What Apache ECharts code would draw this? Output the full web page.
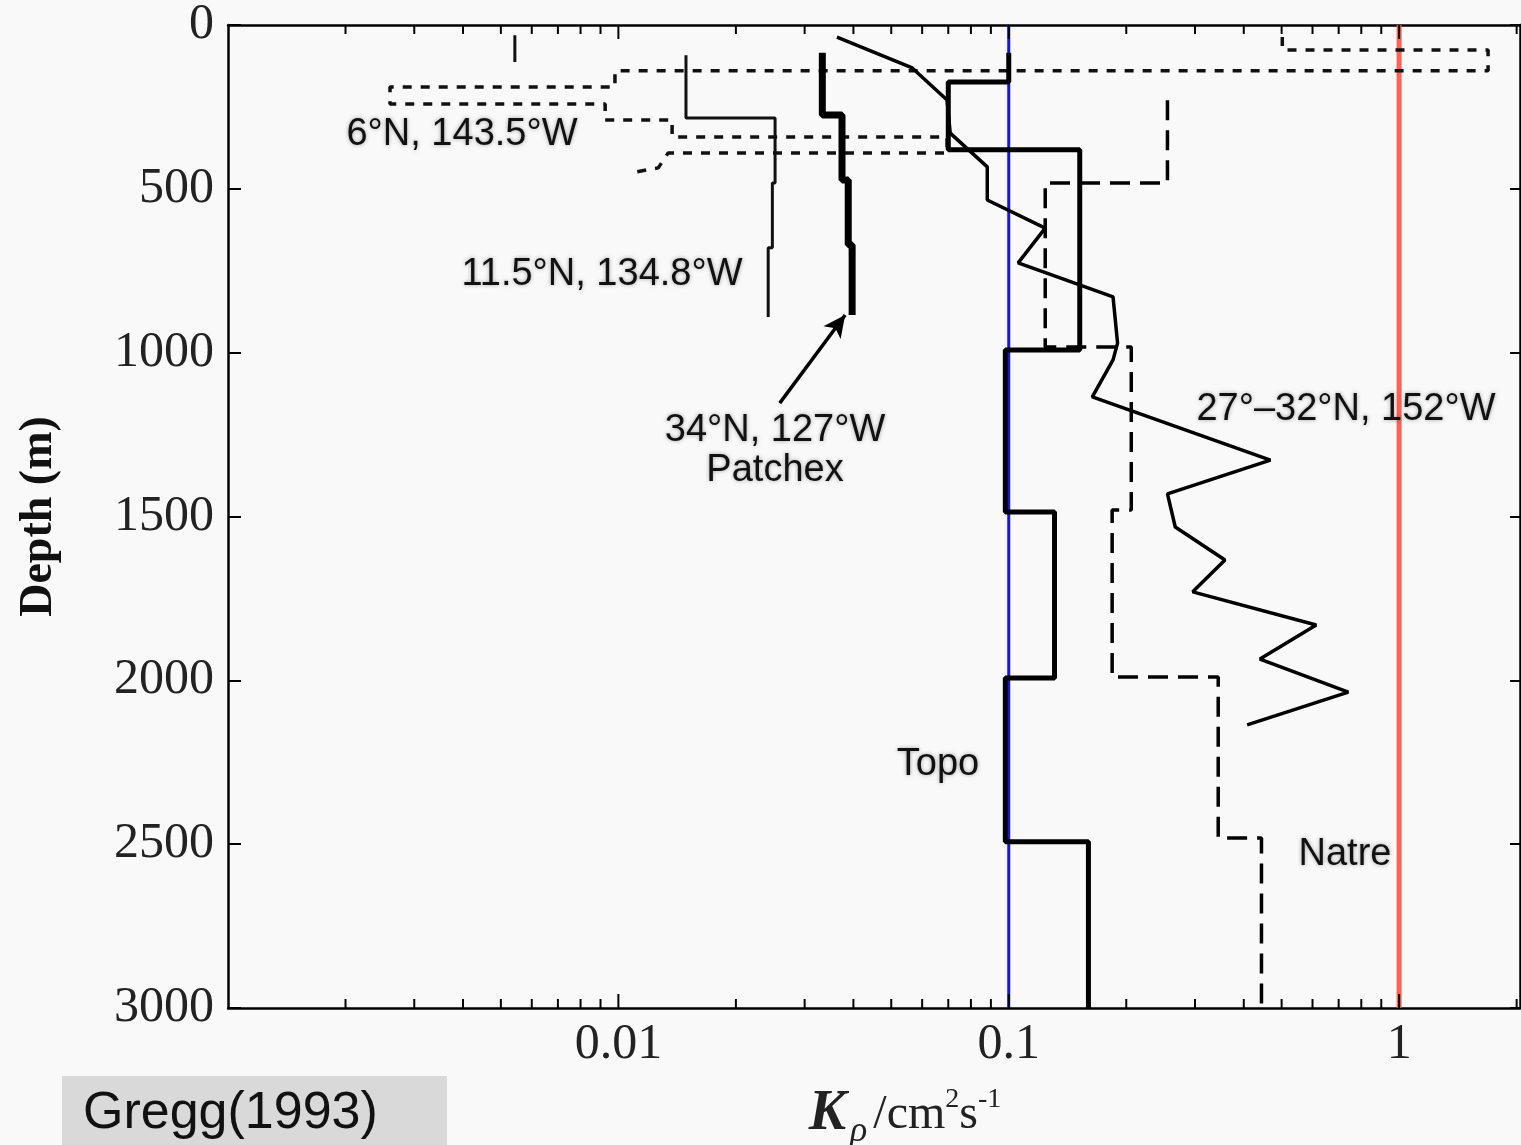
<!DOCTYPE html>
<html>
<head>
<meta charset="utf-8">
<script src="https://cdn.jsdelivr.net/npm/echarts@6/dist/echarts.min.js"></script>
<style>
html,body{margin:0;padding:0;background:#f9f9f9;}
#chart{width:1521px;height:1145px;}
</style>
</head>
<body>
<div id="chart"></div>
<script>
// ---------- data ----------
const xMajorTicks = [0.01, 0.1, 1];
const xMinorTicks = [0.002,0.003,0.004,0.005,0.006,0.007,0.008,0.009,
                     0.02,0.03,0.04,0.05,0.06,0.07,0.08,0.09,
                     0.2,0.3,0.4,0.5,0.6,0.7,0.8,0.9,2];
const xTickLabels = ['0.01', '0.1', '1'];
const depthTicks = [0, 500, 1000, 1500, 2000, 2500, 3000];

// Topo (thick solid step)
const topoK     = [0.100, 0.100, 0.070, 0.070, 0.152, 0.152, 0.098, 0.098, 0.131, 0.131, 0.098, 0.098, 0.160, 0.160];
const topoDepth = [85, 174, 174, 381, 381, 992, 992, 1486, 1486, 1993, 1993, 2493, 2493, 3000];

// Natre (long dashes step)
const natreK     = [0.255, 0.255, 0.124, 0.124, 0.206, 0.206, 0.184, 0.184, 0.344, 0.344, 0.444, 0.444];
const natreDepth = [230, 482, 482, 983, 983, 1480, 1480, 1990, 1990, 2481, 2481, 3000];

// 27°–32°N, 152°W (thin solid polyline)
const n27K     = [0.0363, 0.0566, 0.0695, 0.0708, 0.0881, 0.0881, 0.124, 0.1057, 0.185, 0.190, 0.185, 0.1637, 0.468, 0.255, 0.267, 0.358, 0.296, 0.613, 0.440, 0.741, 0.408];
const n27Depth = [37, 131, 229, 330, 433, 534, 620, 726, 830, 971, 1022, 1135, 1328, 1431, 1532, 1633, 1730, 1831, 1935, 2036, 2136];

// 34°N, 127°W Patchex (very thick step)
const patchexK     = [0.0333, 0.0333, 0.0374, 0.0374, 0.0388, 0.0388, 0.0397, 0.0397];
const patchexDepth = [85, 275, 275, 473, 473, 671, 671, 885];
const patchexArrowK     = [0.0259, 0.0381];
const patchexArrowDepth = [1154, 885];

// 11.5°N, 134.8°W (thin solid step)
const n115K     = [0.0149, 0.0149, 0.0252, 0.0252, 0.0248, 0.0248, 0.0242, 0.0242];
const n115Depth = [92, 284, 284, 482, 482, 680, 680, 891];

// 6°N, 143.5°W (short dashes)
const n6K     = [0.502, 0.502, 1.69, 1.69, 0.0098, 0.0098, 0.0026, 0.0026, 0.00925, 0.00925, 0.01373, 0.01373, 0.0695, 0.0695, 0.0134, 0.01265, 0.01104];
const n6Depth = [37, 76, 76, 140, 140, 189, 189, 241, 241, 290, 290, 342, 342, 391, 391, 436, 449];
const n6TopK     = [0.00543, 0.00543];
const n6TopDepth = [31, 113];

// reference lines
const refBlueK = 0.1;
const refRedK = 1;
const refDepth = [0, 3000];

function pairs(k, d) { return k.map((v, i) => [v, d[i]]); }

const chart = echarts.init(document.getElementById('chart'));
const serif = 'Liberation Serif';

const labelStyle = function (x, y, t) {
  return {type: 'text', x: x, y: y, z: 10, style: {text: t, font: '38px "Liberation Sans"', fill: '#111',
    align: 'center', verticalAlign: 'middle', textShadowColor: 'rgba(0,0,0,0.35)', textShadowBlur: 4}};
};

// inward x ticks (top & bottom frame) drawn through the axis scale
function tickSeries(values, len) {
  return {
    type: 'custom', xAxisIndex: 0, yAxisIndex: 0, silent: true, clip: false, z: 5,
    data: values.map(v => [v]),
    renderItem: function (params, api) {
      const v = api.value(0);
      const pb = api.coord([v, depthTicks[depthTicks.length - 1]]);
      const pt = api.coord([v, depthTicks[0]]);
      const st = {stroke: '#000', lineWidth: 2};
      return {type: 'group', children: [
        {type: 'line', shape: {x1: pb[0], y1: pb[1], x2: pb[0], y2: pb[1] - len}, style: st},
        {type: 'line', shape: {x1: pt[0], y1: pt[1], x2: pt[0], y2: pt[1] + len}, style: st}
      ]};
    }
  };
}

const option = {
  animation: false,
  backgroundColor: '#f9f9f9',
  grid: {left: 228, top: 25, right: 1, bottom: 137, containLabel: false, outerBoundsMode: 'none'},
  xAxis: [
    {
      type: 'log', logBase: 10, min: 0.001, max: 2.04, position: 'bottom', splitLine: {show: false},
      axisLine: {show: true, onZero: false, lineStyle: {color: '#000', width: 2.5}},
      axisTick: {show: false},
      axisLabel: {show: true, customValues: xMajorTicks, margin: 12,
        formatter: function (v) { const i = xMajorTicks.findIndex(t => Math.abs(t - v) / t < 1e-6); return i >= 0 ? xTickLabels[i] : ''; },
        fontFamily: serif, fontSize: 50, color: '#222'},
      name: '{k|K}{rho|ρ}{u|/cm}{sup|2}{u|s}{sup|-1}',
      nameLocation: 'middle', nameGap: 72,
      nameTextStyle: {
        padding: [0, 0, 0, 62],
        rich: {
          k: {fontFamily: serif, fontStyle: 'italic', fontWeight: 'bold', fontSize: 56, color: '#222', lineHeight: 70, verticalAlign: 'middle'},
          rho: {fontFamily: serif, fontStyle: 'italic', fontSize: 36, color: '#222', lineHeight: 70, verticalAlign: 'bottom', padding: [0, 6, 0, 4]},
          u: {fontFamily: serif, fontSize: 48, color: '#222', lineHeight: 70, verticalAlign: 'middle'},
          sup: {fontFamily: serif, fontSize: 28, color: '#222', lineHeight: 70, verticalAlign: 'top', padding: [6, 0, 0, 0]}
        }
      }
    },
    {
      type: 'log', logBase: 10, min: 0.001, max: 2.04, position: 'top', splitLine: {show: false},
      axisLine: {show: true, onZero: false, lineStyle: {color: '#000', width: 2.5}},
      axisTick: {show: false}, axisLabel: {show: false}
    }
  ],
  yAxis: [
    {
      type: 'value', inverse: true, min: 0, max: 3000, interval: 500, position: 'left',
      splitLine: {show: false},
      axisLine: {show: true, onZero: false, lineStyle: {color: '#000', width: 2.5}},
      axisTick: {show: true, inside: true, length: 13, lineStyle: {color: '#000', width: 2}},
      axisLabel: {show: true, margin: 14, fontFamily: serif, fontSize: 50, color: '#222',
        formatter: function (v) { return String(v); }},
      name: 'Depth (m)', nameLocation: 'middle', nameGap: 166, nameRotate: 90,
      nameTextStyle: {fontFamily: serif, fontWeight: 'bold', fontSize: 46, color: '#111'}
    },
    {
      type: 'value', inverse: true, min: 0, max: 3000, interval: 500, position: 'right',
      splitLine: {show: false},
      axisLine: {show: true, onZero: false, lineStyle: {color: '#000', width: 2.5}},
      axisTick: {show: true, inside: true, length: 10, lineStyle: {color: '#000', width: 2}},
      axisLabel: {show: false}
    }
  ],
  series: [
    tickSeries(xMajorTicks, 14),
    tickSeries(xMinorTicks, 9),
    {name: 'ref0.1', type: 'line', xAxisIndex: 0, yAxisIndex: 0, showSymbol: false, silent: true,
     data: refDepth.map(d => [refBlueK, d]), lineStyle: {color: '#1414e6', width: 3}, z: 1},
    {name: 'ref1', type: 'line', xAxisIndex: 0, yAxisIndex: 0, showSymbol: false, silent: true,
     data: refDepth.map(d => [refRedK, d]), lineStyle: {color: '#ff5040', width: 5, opacity: 0.9}, z: 1},
    {name: '6°N, 143.5°W', type: 'line', xAxisIndex: 0, yAxisIndex: 0, showSymbol: false,
     data: pairs(n6K, n6Depth), lineStyle: {color: '#111', width: 3.5, type: [9, 9]}, z: 3},
    {name: '6°N top', type: 'line', xAxisIndex: 0, yAxisIndex: 0, showSymbol: false,
     data: pairs(n6TopK, n6TopDepth), lineStyle: {color: '#111', width: 3}, z: 3},
    {name: '11.5°N, 134.8°W', type: 'line', xAxisIndex: 0, yAxisIndex: 0, showSymbol: false,
     data: pairs(n115K, n115Depth), lineStyle: {color: '#111', width: 3}, z: 3},
    {name: 'Patchex', type: 'line', xAxisIndex: 0, yAxisIndex: 0, showSymbol: false,
     data: pairs(patchexK, patchexDepth), lineStyle: {color: '#000', width: 7}, z: 3,
     markLine: {silent: true, symbol: ['none', 'arrow'], symbolSize: [16, 22], label: {show: false},
       lineStyle: {color: '#000', width: 3.5, type: 'solid'},
       data: [[{coord: [patchexArrowK[0], patchexArrowDepth[0]]}, {coord: [patchexArrowK[1], patchexArrowDepth[1]]}]]}},
    {name: '27°–32°N, 152°W', type: 'line', xAxisIndex: 0, yAxisIndex: 0, showSymbol: false,
     data: pairs(n27K, n27Depth), lineStyle: {color: '#000', width: 3.5}, z: 3},
    {name: 'Natre', type: 'line', xAxisIndex: 0, yAxisIndex: 0, showSymbol: false,
     data: pairs(natreK, natreDepth), lineStyle: {color: '#000', width: 3.5, type: [20, 10]}, z: 3},
    {name: 'Topo', type: 'line', xAxisIndex: 0, yAxisIndex: 0, showSymbol: false,
     data: pairs(topoK, topoDepth), lineStyle: {color: '#000', width: 5}, z: 4}
  ],
  graphic: [
    labelStyle(462, 135, '6°N, 143.5°W'),
    labelStyle(602, 275, '11.5°N, 134.8°W'),
    labelStyle(775, 431, '34°N, 127°W'),
    labelStyle(775, 471, 'Patchex'),
    labelStyle(1346, 410, '27°–32°N, 152°W'),
    labelStyle(938, 765, 'Topo'),
    labelStyle(1345, 855, 'Natre'),
    {type: 'rect', z: 10, shape: {x: 62, y: 1076, width: 385, height: 75}, style: {fill: '#d9d9d9'}},
    {type: 'text', x: 83, y: 1114, z: 11, style: {text: 'Gregg(1993)', font: '52px "Liberation Sans"', fill: '#111', align: 'left', verticalAlign: 'middle'}}
  ]
};
chart.setOption(option);
</script>
</body>
</html>
